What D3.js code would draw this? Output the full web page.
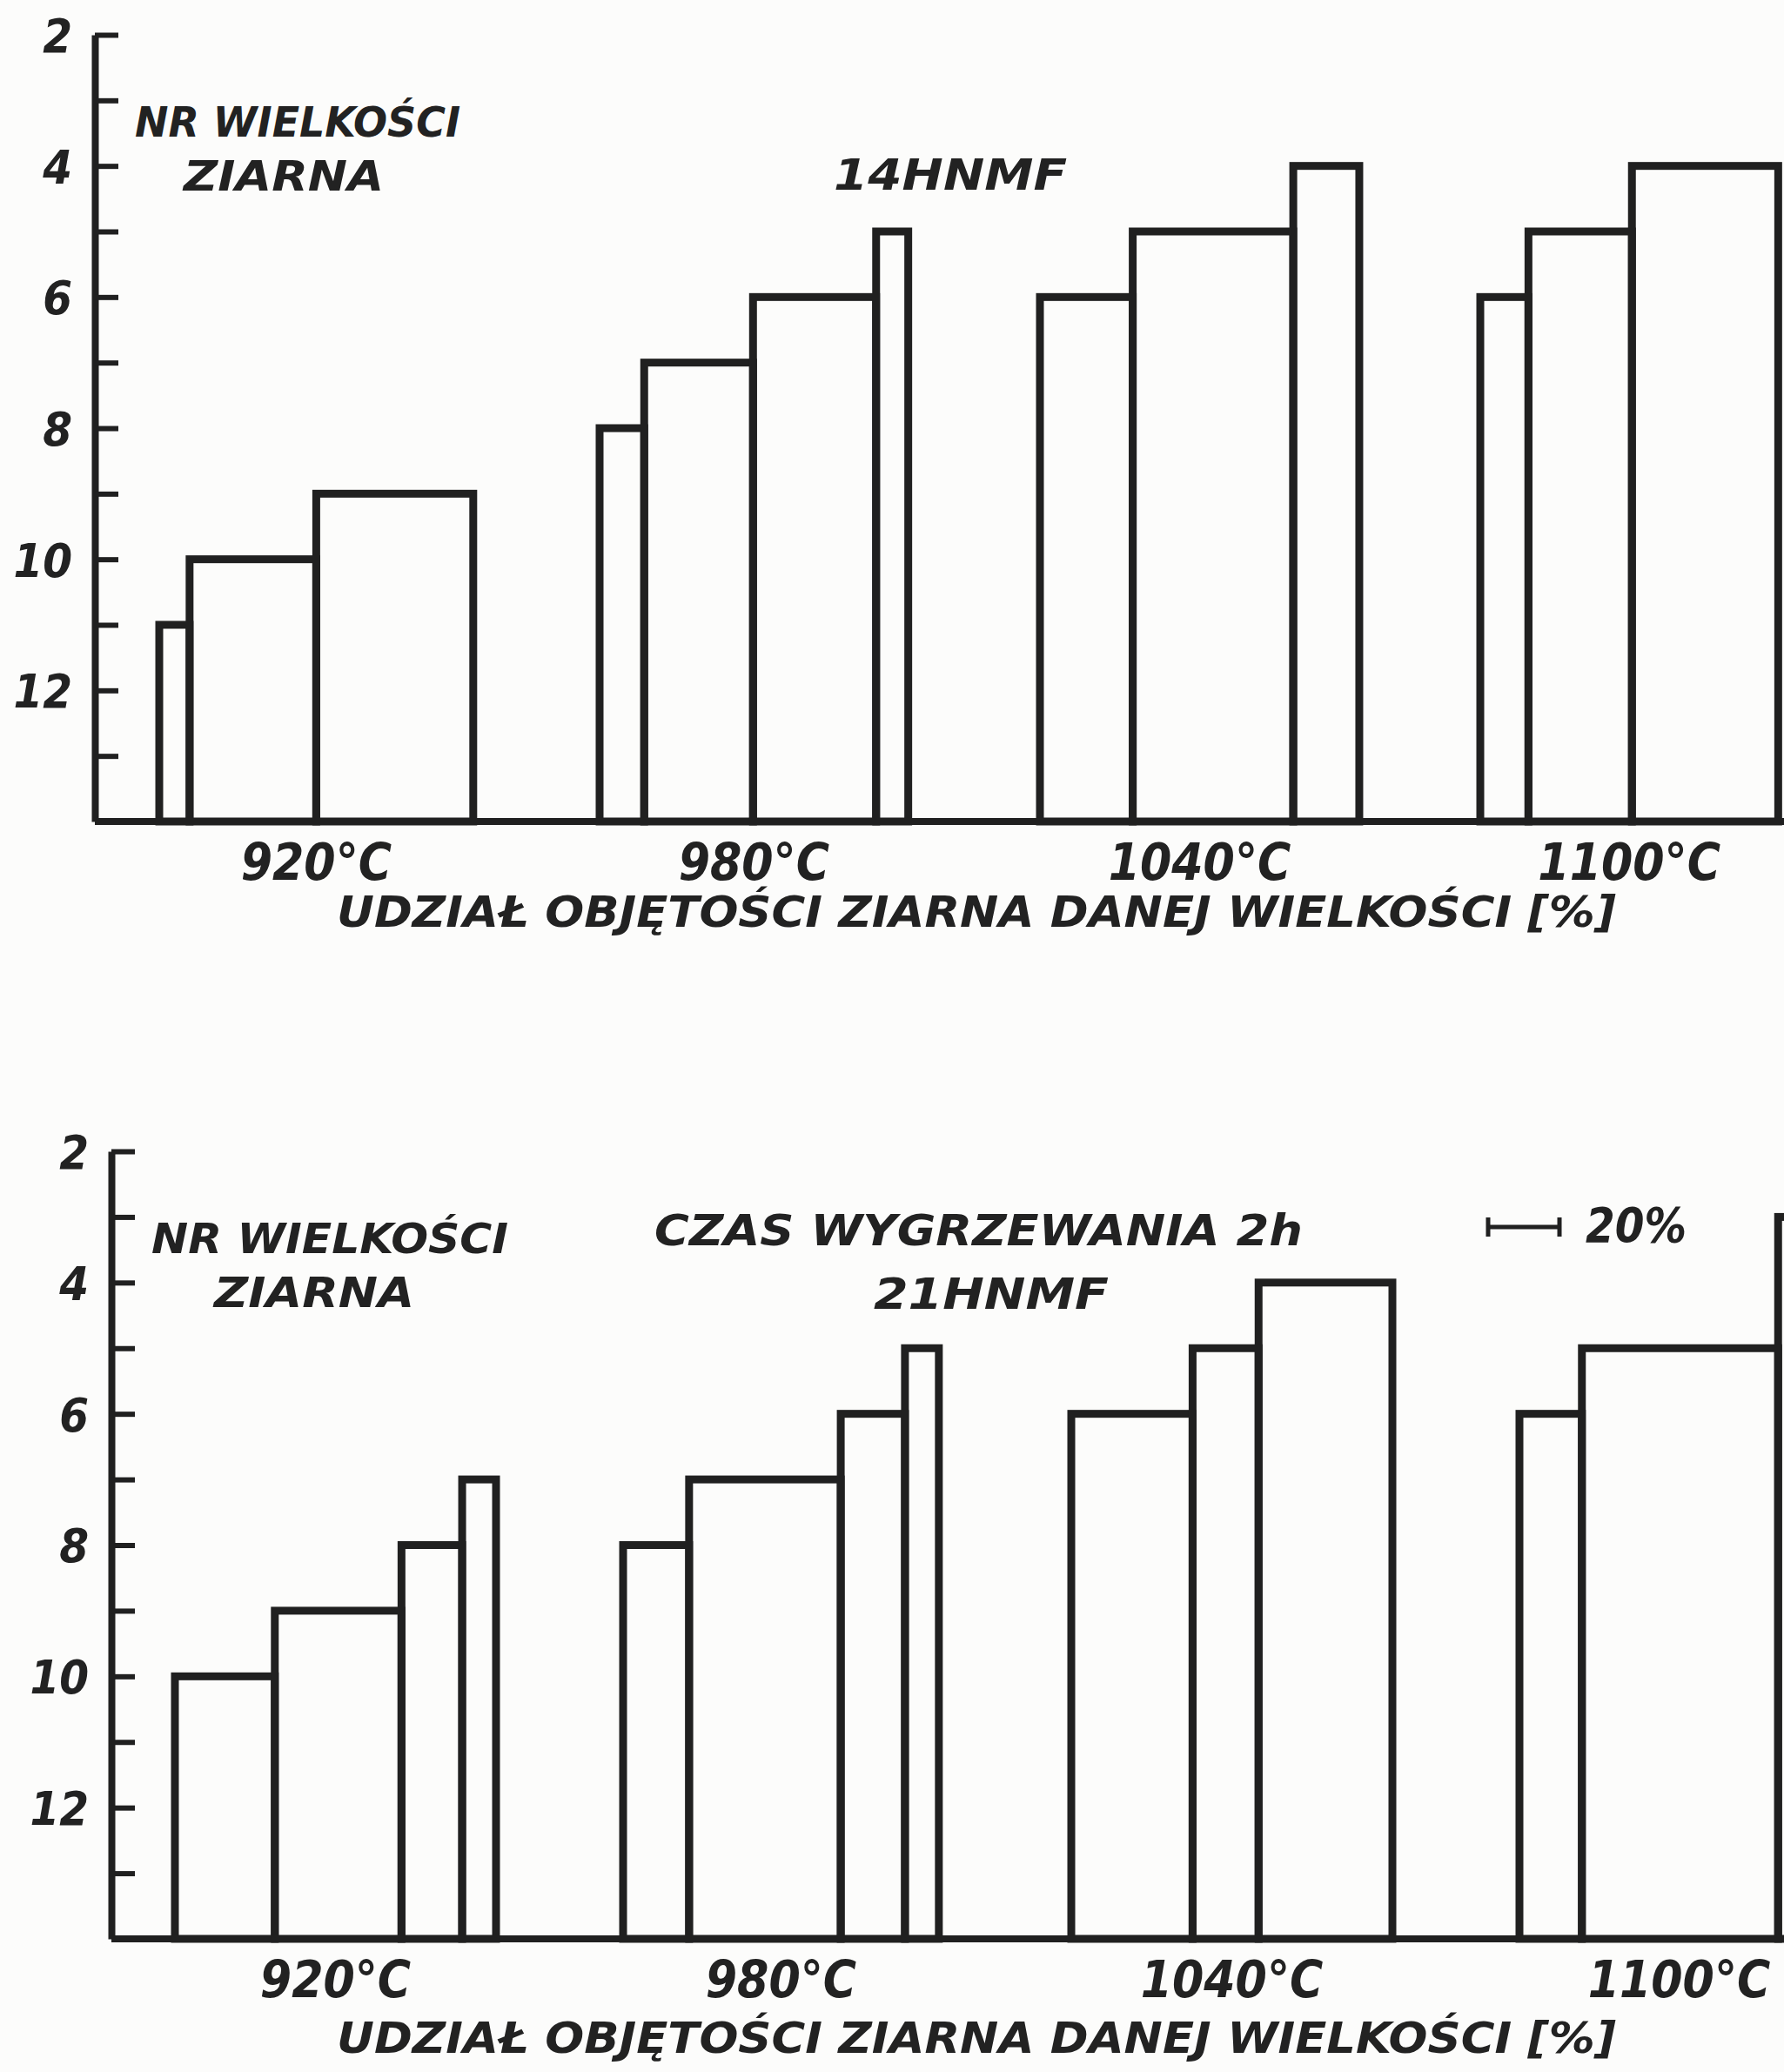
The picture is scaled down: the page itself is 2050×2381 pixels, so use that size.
<!DOCTYPE html>
<html>
<head>
<meta charset="utf-8">
<script src="https://cdn.jsdelivr.net/npm/d3@7"></script>
<style>
  html, body { margin: 0; padding: 0; background: #fcfcfb; }
  svg { display: block; }
  text { font-family: "DejaVu Sans", sans-serif; font-weight: bold; font-style: italic; fill: #222; }
  text.num { font-family: "DejaVu Sans Condensed", "DejaVu Sans", sans-serif; font-stretch: condensed; }
</style>
</head>
<body>
<svg id="chart" width="2050" height="2381"></svg>
<script>
// Annealing temperatures (one group of bars each)
const temperatures = ["920°C", "980°C", "1040°C", "1100°C"];

// Steel 14HNMF: grain size number at the top of each bar, and volume share [%] (bar width)
const grain14 = [[11, 10, 9], [8, 7, 6, 5], [6, 5, 4], [6, 5, 4]];
const share14 = [[8.5, 35.5, 44], [12.5, 30.5, 34.5, 9], [26, 45, 18.5], [13.5, 29, 41]];

// Steel 21HNMF
const grain21 = [[10, 9, 8, 7], [8, 7, 6, 5], [6, 5, 4], [6, 5, 3]];
const share21 = [[28, 35.5, 17, 9.5], [18.5, 42.5, 18, 9.5], [34, 18.5, 37.5], [17.5, 55, 17]];

// Grain size axis
const grainTicks = d3.range(2, 14);
const grainDomain = [2, 14];
const scaleBarPct = 20;

const W = 2050;
const ink = "#202020";
const svg = d3.select("#chart");

// width of one percent of volume share
const pct = d3.scaleLinear().domain([0, 20]).range([0, 82]);

function caption(g, x, y, size, len, str, anchor) {
  return g.append("text")
    .attr("x", x).attr("y", y)
    .attr("text-anchor", anchor || "start")
    .attr("font-size", size)
    .attr("textLength", len).attr("lengthAdjust", "spacingAndGlyphs")
    .text(str);
}

function panel(opt) {
  const g = svg.append("g");
  const y = d3.scaleLinear().domain(grainDomain).range([opt.top, opt.bottom]);
  const band = d3.scaleBand().domain(temperatures)
    .range([opt.groupStart, opt.groupStart + temperatures.length * opt.groupStep]);
  const base = y(grainDomain[1]);

  // bars: adjacent rectangles, left to right within each temperature group
  opt.grain.forEach((tops, gi) => {
    const t = temperatures[gi];
    const shares = opt.share[gi];
    const starts = d3.cumsum([0].concat(shares.slice(0, -1)));
    const bars = tops.map((v, i) => ({ v, s: shares[i], start: starts[i] }));
    g.append("g").selectAll("rect").data(bars).join("rect")
      .attr("x", d => band(t) + pct(d.start))
      .attr("y", d => y(d.v))
      .attr("width", d => pct(d.s))
      .attr("height", d => base - y(d.v))
      .attr("fill", "none")
      .attr("stroke", ink)
      .attr("stroke-width", 9);

    // temperature label centred under the group
    const total = d3.sum(shares);
    g.append("text").attr("class", "num")
      .attr("x", band(t) + pct(total / 2))
      .attr("y", base + 67)
      .attr("text-anchor", "middle")
      .attr("font-size", 58)
      .text(t);
  });

  // grain size axis, ticks pointing into the plot
  const axis = d3.axisLeft(y)
    .tickValues(grainTicks)
    .tickFormat(d => d % 2 === 0 ? d : "")
    .tickSizeInner(-27)
    .tickSizeOuter(0)
    .tickPadding(26);
  const ax = g.append("g").attr("transform", `translate(${opt.axisX},0)`).call(axis);
  ax.select(".domain").attr("stroke", ink).attr("stroke-width", 8);
  ax.selectAll(".tick line").attr("stroke", ink).attr("stroke-width", 6);
  ax.selectAll(".tick text")
    .attr("class", "num")
    .attr("font-size", 54)
    .attr("font-family", null)
    .attr("fill", ink)
    .attr("dy", "0.36em");

  // horizontal base line
  g.append("line")
    .attr("x1", opt.axisX).attr("x2", W)
    .attr("y1", base).attr("y2", base)
    .attr("stroke", ink).attr("stroke-width", 8);

  // axis captions
  caption(g, opt.axisX + 46, opt.top + 117, 48, opt.nrLen, "NR WIELKOŚCI");
  caption(g, opt.axisX + opt.ziarnaDx, opt.top + 179, 48, 230, "ZIARNA");
  caption(g, 1122, base + opt.titleDy, 50, 1470, "UDZIAŁ OBJĘTOŚCI ZIARNA DANEJ WIELKOŚCI [%]", "middle");
  return { g, y, base };
}

// upper panel: 14HNMF
const p1 = panel({
  top: 40, bottom: 944, axisX: 109,
  groupStart: 183, groupStep: 506,
  grain: grain14, share: share14,
  nrLen: 374, ziarnaDx: 102, titleDy: 121
});
caption(p1.g, 958, 218, 50, 268, "14HNMF");

// lower panel: 21HNMF
const p2 = panel({
  top: 1323, bottom: 2228, axisX: 128,
  groupStart: 201, groupStep: 515,
  grain: grain21, share: share21,
  nrLen: 410, ziarnaDx: 118, titleDy: 131
});
caption(p2.g, 752, 1431, 50, 745, "CZAS WYGRZEWANIA 2h");
caption(p2.g, 1004, 1504, 50, 270, "21HNMF");

// scale bar for the volume share
const sbX = 1710, sbY = 1410, sbLen = pct(scaleBarPct);
const sb = p2.g.append("g").attr("stroke", ink).attr("stroke-width", 5);
sb.append("line").attr("x1", sbX).attr("x2", sbX + sbLen).attr("y1", sbY).attr("y2", sbY);
sb.append("line").attr("x1", sbX).attr("x2", sbX).attr("y1", sbY - 11).attr("y2", sbY + 11);
sb.append("line").attr("x1", sbX + sbLen).attr("x2", sbX + sbLen).attr("y1", sbY - 11).attr("y2", sbY + 11);
caption(p2.g, 1822, 1427, 56, 116, scaleBarPct + "%");
</script>
</body>
</html>
